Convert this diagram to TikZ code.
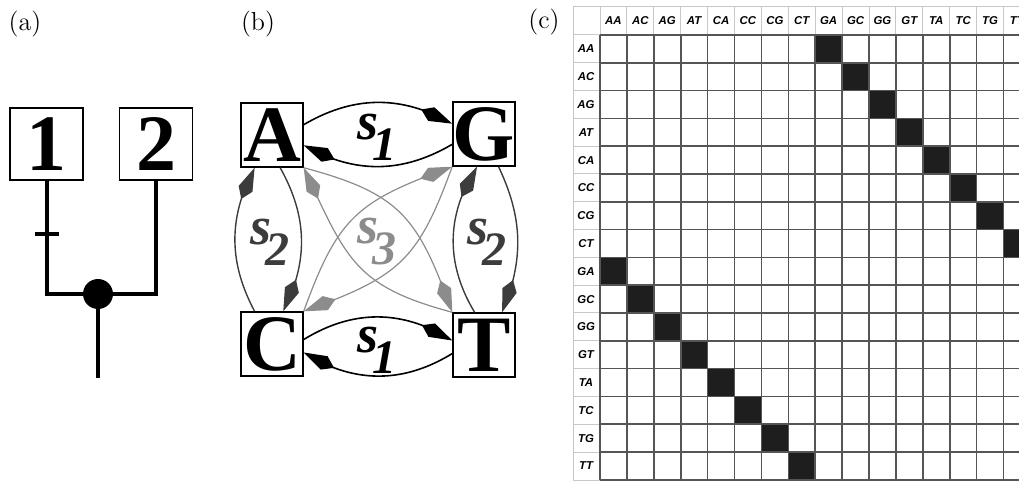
\documentclass[tikz,border=0pt]{standalone}
\usepackage{fontspec}
\newfontfamily\timesfont{Liberation Serif}
\newfontfamily\tabfont{Liberation Sans}
\usetikzlibrary{positioning, arrows.meta, bending}

\definecolor{stwocol}{HTML}{3C3C3C}
\definecolor{sthreecol}{HTML}{8C8C8C}
\definecolor{gridlight}{HTML}{C8C8C8}
\definecolor{griddark}{HTML}{555555}
\definecolor{cellcol}{HTML}{1E1E1E}

\newcommand{\slabel}[1]{{\bfseries\itshape\fontsize{27}{27}\selectfont s\kern-3pt\raisebox{-10.5pt}{\fontsize{24}{24}\selectfont #1}}}

\begin{document}
\begin{tikzpicture}[x=0.5pt, y=0.5pt,
    box/.style={draw, line width=0.7pt, inner sep=0pt, font=\timesfont\bfseries\fontsize{40}{40}\selectfont},
    numbox/.style={box, minimum width=36.5pt, minimum height=36pt},
    basebox/.style={box, minimum width=31pt, minimum height=32pt},
    tree/.style={line width=2pt},
    tip/.style={-{Kite[length=17pt, width=7.5pt, inset=5.5pt]}},
    sone/.style={tip, line width=0.8pt, black},
    stwo/.style={tip, line width=0.7pt, stwocol},
    sthree/.style={tip, line width=0.6pt, sthreecol},
    slab/.style={font=\timesfont, inner sep=0pt},
    panel/.style={font=\fontsize{13}{13}\selectfont},
    hdr/.style={font=\tabfont\bfseries\itshape\fontsize{5.7}{6}\selectfont, inner sep=0pt},
    light/.style={draw=gridlight, line width=0.5pt},
    dark/.style={draw=griddark, line width=0.8pt}]
    \useasboundingbox (0,0) rectangle (1019,-481);

    % (a)
    \node[panel] (la) at (25,-24) {(a)};
    \node[numbox] (one) at (46.5,-144) {1};
    \node[numbox] (two) at (156,-144) {2};
    \node[circle, fill, inner sep=0pt, minimum size=15pt] (dot) at (98,-294) {};
    \coordinate (root) at (98,-378);
    \coordinate (tick) at (46.5,-234);
    \draw[tree] (one.south) |- (dot.center) -| (two.south);
    \draw[tree] (dot) -- (root);
    \draw[tree] ([xshift=-6pt]tick) -- ([xshift=6pt]tick);

    % (b)
    \node[panel] (lb) at (258,-24) {(b)};
    \node[basebox] (A) at (272,-135) {A};
    \node[basebox] (G) at (484,-134) {G};
    \node[basebox] (C) at (272,-344) {C};
    \node[basebox] (T) at (484,-345) {T};

    \draw[sone] (A.18) to[bend left=30] (G.162);
    \draw[sone] (G.198) to[bend left=30] (A.342);
    \draw[sone] (C.8) to[bend left=32] (T.172);
    \draw[sone] (T.195) to[bend left=32] (C.345);

    \draw[stwo] (C.118) to[bend left=28] (A.242);
    \draw[stwo] (A.284) to[bend left=28] (C.71);
    \draw[stwo] (T.106) to[bend left=32] (G.258);
    \draw[stwo] (G.294) to[bend left=24] (T.61);

    \draw[sthree] (A.south east) to[out=-15, in=110, looseness=1.25] (T.north west);
    \draw[sthree] (T.north west) to[out=165, in=-65, looseness=1.25] (A.south east);
    \draw[sthree] (C.north east) to[out=70, in=200, looseness=1.25] (G.south west);
    \draw[sthree] (G.south west) to[out=-110, in=20, looseness=1.25] (C.north east);

    \node[slab] (s1top) at (377,-137) {\slabel{1}};
    \node[slab] (s1bot) at (377,-350) {\slabel{1}};
    \node[slab, stwocol] (s2left) at (270,-242) {\slabel{2}};
    \node[slab, stwocol] (s2right) at (487,-242) {\slabel{2}};
    \node[slab, sthreecol] (s3mid) at (377,-242) {\slabel{3}};

    % (c)
    \node[panel] (lc) at (544,-22) {(c)};
    \begin{scope}
        \clip (573,0) rectangle (1019,-481);
        \draw[light] (573,-7) rectangle (1030,-480);
        \foreach \lab [count=\i from 0] in {AA,AC,AG,AT,CA,CC,CG,CT,GA,GC,GG,GT,TA,TC,TG,TT} {
            \draw[light] ({600+26.9*\i},-7) -- ({600+26.9*\i},-35);
            \draw[light] (573,{-35-27.8*\i}) -- (600,{-35-27.8*\i});
            \node[hdr] (col\i) at ({613.45+26.9*\i},-21) {\lab};
            \node[hdr] (row\i) at (586,{-48.9-27.8*\i}) {\lab};
        }
        \foreach \k in {0,...,7} {
            \fill[cellcol] ({600+26.9*(\k+8)},{-35-27.8*\k}) rectangle ++(26.9,-27.8);
            \fill[cellcol] ({600+26.9*\k},{-35-27.8*(\k+8)}) rectangle ++(26.9,-27.8);
        }
        \foreach \k in {0,...,16} {
            \draw[dark] ({600+26.9*\k},-35) -- ({600+26.9*\k},-480);
            \draw[dark] (600,{-35-27.8*\k}) -- (1030,{-35-27.8*\k});
        }
    \end{scope}
\end{tikzpicture}
\end{document}
